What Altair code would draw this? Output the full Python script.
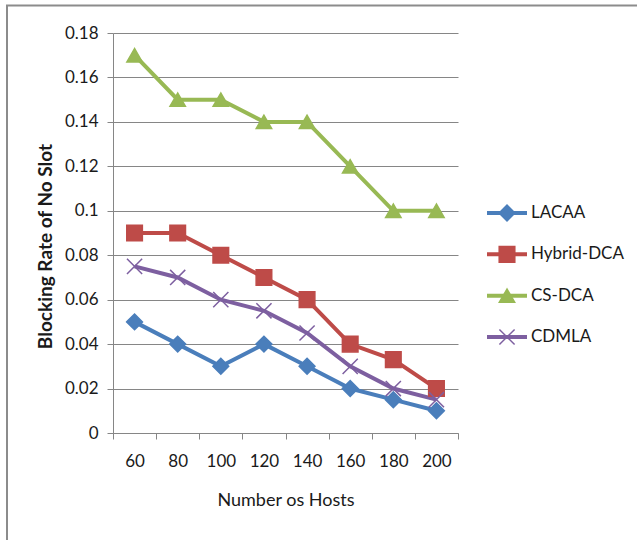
import altair as alt
import pandas as pd

# Number of hosts on the x axis
hosts = [60, 80, 100, 120, 140, 160, 180, 200]

# Blocking rate per scheme
lacaa = [0.05, 0.04, 0.03, 0.04, 0.03, 0.02, 0.015, 0.01]
hybrid_dca = [0.09, 0.09, 0.08, 0.07, 0.06, 0.04, 0.033, 0.02]
cs_dca = [0.17, 0.15, 0.15, 0.14, 0.14, 0.12, 0.10, 0.10]
cdmla = [0.075, 0.07, 0.06, 0.055, 0.045, 0.03, 0.02, 0.015]

series_names = ["LACAA", "Hybrid-DCA", "CS-DCA", "CDMLA"]
series_values = [lacaa, hybrid_dca, cs_dca, cdmla]
series_colors = ["#4A7EBB", "#BE4B48", "#98B954", "#7D5FA0"]
x_marker = "M-1,-1L1,1M-1,1L1,-1"
series_shapes = ["diamond", "square", "triangle-up", x_marker]
series_sizes = [250, 230, 260, 190]

y_ticks = [0, 0.02, 0.04, 0.06, 0.08, 0.1, 0.12, 0.14, 0.16, 0.18]

FONT = "Lato"
GRID = "#868686"

rows = []
for name, vals in zip(series_names, series_values):
    for h, v in zip(hosts, vals):
        rows.append({"hosts": h, "rate": v, "series": name})
df = pd.DataFrame(rows)
legend_df = pd.DataFrame({"series": series_names})

color_scale = alt.Scale(domain=series_names, range=series_colors)
shape_scale = alt.Scale(domain=series_names, range=series_shapes)
size_scale = alt.Scale(domain=series_names, range=series_sizes)

x_enc = alt.X(
    "hosts:O",
    scale=alt.Scale(type="band", paddingInner=0, paddingOuter=0),
    bandPosition=0.5,
    axis=alt.Axis(
        title="Number os Hosts",
        labelAngle=0,
        tickBand="extent",
        tickSize=6,
        labelPadding=14,
        titlePadding=22,
        titleFontWeight="normal",
        titleFontSize=18,
        grid=False,
    ),
)
y_enc = alt.Y(
    "rate:Q",
    scale=alt.Scale(domain=[0, 0.18], nice=False, zero=True),
    axis=alt.Axis(
        title="Blocking Rate of No Slot",
        values=y_ticks,
        format="~g",
        tickSize=6,
        labelPadding=9,
        titleFontWeight="bold",
        titleFontSize=19,
        titleX=-68,
        titleY=213,
        titleAngle=-90,
        titleAlign="center",
        titleBaseline="middle",
    ),
)
y_hidden = alt.Y("rate:Q", scale=alt.Scale(domain=[0, 0.18], nice=False, zero=True), axis=None)
color_enc = alt.Color("series:N", scale=color_scale, legend=None)

lines = alt.Chart(df).mark_line(strokeWidth=4).encode(
    x=x_enc, y=y_enc, color=color_enc, detail="series:N"
)
points = alt.Chart(df).mark_point(filled=True, strokeWidth=1.5, opacity=1).encode(
    x=x_enc,
    y=y_hidden,
    color=color_enc,
    stroke=alt.Stroke("series:N", scale=color_scale, legend=None),
    shape=alt.Shape("series:N", scale=shape_scale, legend=None),
    size=alt.Size("series:N", scale=size_scale, legend=None),
)

# Legend: short line with a marker and a label per series
leg_y = alt.Y("series:N", scale=alt.Scale(type="point", domain=series_names, range=[180, 304], padding=0), axis=None)
leg_lines = alt.Chart(legend_df).mark_rule(strokeWidth=4).encode(
    y=leg_y, x=alt.value(374), x2=alt.value(414), color=color_enc
)
leg_points = alt.Chart(legend_df).mark_point(filled=True, strokeWidth=1.5, opacity=1).encode(
    y=leg_y,
    x=alt.value(394),
    color=color_enc,
    stroke=alt.Stroke("series:N", scale=color_scale, legend=None),
    shape=alt.Shape("series:N", scale=shape_scale, legend=None),
    size=alt.Size("series:N", scale=size_scale, legend=None),
)
leg_text = alt.Chart(legend_df).mark_text(
    align="left", baseline="middle", fontSize=17, font=FONT, color="#1a1a1a"
).encode(y=leg_y, x=alt.value(418), text="series:N")

# Outer frame around the whole figure
frame = alt.Chart(pd.DataFrame({"f": [0]})).mark_rect(
    fill="transparent", stroke="#8c8c8c", strokeWidth=2
).encode(x=alt.value(-106), x2=alt.value(540), y=alt.value(-27.5), y2=alt.value(520))

chart = (
    alt.layer(frame, lines, points, leg_lines, leg_points, leg_text)
    .resolve_scale(y="independent")
    .properties(
        width=345,
        height=400,
        autosize=alt.AutoSizeParams(type="none"),
        padding={"left": 113, "top": 33, "right": 179, "bottom": 107},
        background="white",
    )
    .configure_view(stroke=None)
    .configure_axis(
        labelFont=FONT,
        titleFont=FONT,
        labelFontSize=17,
        titleFontSize=17,
        labelColor="#1a1a1a",
        titleColor="#1a1a1a",
        domainColor=GRID,
        tickColor=GRID,
        gridColor=GRID,
        gridWidth=1,
        domainWidth=1,
        tickWidth=1,
    )
    .configure_axisY(grid=True)
)

chart.save("out.html", embed_options={"renderer": "svg", "actions": False})
